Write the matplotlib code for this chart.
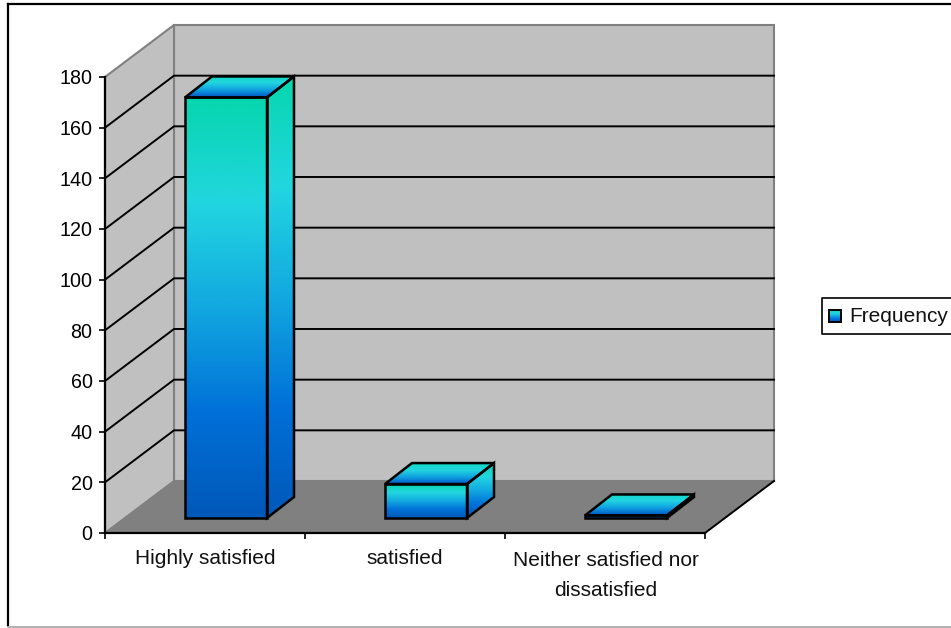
import matplotlib
matplotlib.use('Agg')
import matplotlib.pyplot as plt
import numpy as np
from matplotlib.colors import LinearSegmentedColormap
from matplotlib.lines import Line2D
from matplotlib.patches import Polygon

plt.rcParams['font.family'] = ['Liberation Sans', 'DejaVu Sans']

categories = ['Highly satisfied', 'satisfied', 'Neither satisfied nor\ndissatisfied']
frequency = [166, 13.4, 1]
y_ticks = [0, 20, 40, 60, 80, 100, 120, 140, 160, 180]
legend_label = 'Frequency'

W, H = 951, 628
# depth of the box, in axis units
DEPTH_X = 69 / 200
DEPTH_Y = 180 * 52 / 456

front_cmap = LinearSegmentedColormap.from_list(
    'front', ['#0058B8', '#0070D8', '#12A8E0', '#22D6E0', '#06D6AE'])
top_cmap = LinearSegmentedColormap.from_list(
    'top', ['#0058C8', '#10A0E0', '#22D6E0', '#10D8C0'])


def shade(ax, pts, cmap, vmin, vmax):
    # vertical gradient clipped to a polygon, outlined in black
    ramp = np.linspace(1, 0, 256).reshape(-1, 1)
    xs = [p[0] for p in pts]
    im = ax.imshow(ramp, cmap=cmap, aspect='auto', interpolation='bilinear',
                   extent=(min(xs), max(xs), vmin, vmax), zorder=4, clip_on=True)
    clip = Polygon(pts, closed=True, transform=ax.transData, fill=False, edgecolor='none')
    ax.add_patch(clip)
    im.set_clip_path(clip)
    ax.add_patch(Polygon(pts, closed=True, fill=False, edgecolor='black',
                         linewidth=1.8, zorder=5, clip_on=False, joinstyle='miter'))


def draw_bar(ax, i, value):
    x0 = i + 0.4
    x1 = x0 + 0.41
    y0 = 15 / 456 * 180
    y1 = y0 + value
    dx = 27 / 200
    dy = 21 / 456 * 180
    shade(ax, [(x0, y0), (x1, y0), (x1, y1), (x0, y1)], front_cmap, y0, y1)
    shade(ax, [(x1, y0), (x1 + dx, y0 + dy), (x1 + dx, y1 + dy), (x1, y1)],
          front_cmap, y0, y1 + dy)
    shade(ax, [(x0, y1), (x1, y1), (x1 + dx, y1 + dy), (x0 + dx, y1 + dy)],
          top_cmap, y1, y1 + dy)


fig = plt.figure(figsize=(W / 100, H / 100), dpi=100, facecolor='white')

# outer chart frame: dark on the left and top, light along the bottom
fig.add_artist(Line2D([7.5 / W, 7.5 / W], [1 - 3.5 / H, 1 - 626 / H], color='black', linewidth=1.6))
fig.add_artist(Line2D([7.5 / W, 1], [1 - 3.5 / H, 1 - 3.5 / H], color='black', linewidth=1.6))
fig.add_artist(Line2D([7.5 / W, 1], [1 - 627 / H, 1 - 627 / H], color='#B0B0B0', linewidth=1.4))

ax = fig.add_axes((105 / W, 1 - 533 / H, 600 / W, 456 / H))
ax.set_xlim(0, 3)
ax.set_ylim(0, 180)
ax.set_facecolor('none')

# back wall, side wall and floor
ax.add_patch(Polygon([(DEPTH_X, DEPTH_Y), (3 + DEPTH_X, DEPTH_Y), (3 + DEPTH_X, 180 + DEPTH_Y), (DEPTH_X, 180 + DEPTH_Y)],
                     facecolor='#C0C0C0', edgecolor='#808080', linewidth=1.5, clip_on=False, zorder=1))
ax.add_patch(Polygon([(0, 0), (DEPTH_X, DEPTH_Y), (DEPTH_X, 180 + DEPTH_Y), (0, 180)],
                     facecolor='#C0C0C0', edgecolor='#808080', linewidth=1.5, clip_on=False, zorder=1))
ax.add_patch(Polygon([(0, 0), (3, 0), (3 + DEPTH_X, DEPTH_Y), (DEPTH_X, DEPTH_Y)],
                     facecolor='#808080', edgecolor='none', clip_on=False, zorder=1))
ax.plot([3, 3 + DEPTH_X], [0, DEPTH_Y], color='black', linewidth=1.4, clip_on=False, zorder=2)

# gridlines run along the side wall and the back wall
for t in y_ticks[1:-1]:
    ax.plot([0, DEPTH_X, 3 + DEPTH_X], [t, t + DEPTH_Y, t + DEPTH_Y], color='black',
            linewidth=1.4, clip_on=False, zorder=2)

for i, v in enumerate(frequency):
    draw_bar(ax, i, v)
ax.set_xlim(0, 3)
ax.set_ylim(0, 180)

for name in ('top', 'right'):
    ax.spines[name].set_visible(False)
for name in ('left', 'bottom'):
    ax.spines[name].set_linewidth(1.6)
    ax.spines[name].set_zorder(6)

ax.set_yticks(y_ticks)
ax.set_xticks([0, 1, 2, 3])
ax.set_xticklabels([])
ax.tick_params(axis='both', length=4, width=1.2, labelsize=14.2, color='black')
ax.tick_params(axis='y', pad=5)
for i, c in enumerate(categories):
    # single-line labels sit slightly lower than the wrapped one
    label_y = -7 if '\n' in c else -6.2
    ax.text(i + 0.5 + (0.005 if '\n' in c else 0), label_y, c, ha='center', va='top', fontsize=15,
            linespacing=1.72, color='#111111')

# legend box drawn by hand so the swatch carries the gradient; it runs off the right edge
fig.add_artist(Line2D([951 / W, 822 / W, 822 / W, 951 / W],
                      [1 - 298 / H, 1 - 298 / H, 1 - 333.5 / H, 1 - 333.5 / H],
                      color='black', linewidth=1.2))
sw = fig.add_axes((829 / W, 1 - 322 / H, 12 / W, 12 / H))
sw.imshow(np.linspace(1, 0, 64).reshape(-1, 1), cmap=front_cmap, aspect='auto')
sw.set_xticks([])
sw.set_yticks([])
for s in sw.spines.values():
    s.set_linewidth(1.4)
fig.text(849 / W, 1 - 316 / H, legend_label, ha='left', va='center', fontsize=15, color='#111111')

fig.savefig('out.png', dpi=100)
